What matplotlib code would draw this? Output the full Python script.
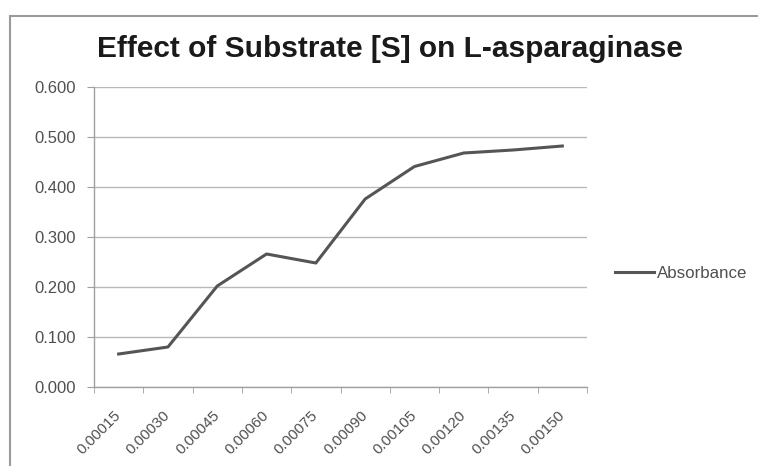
import matplotlib
matplotlib.use("Agg")
import matplotlib.pyplot as plt
from matplotlib.patches import Rectangle
from matplotlib.ticker import FixedLocator

# Substrate concentration [S] (M) and measured absorbance
substrate = ["0.00015", "0.00030", "0.00045", "0.00060", "0.00075",
             "0.00090", "0.00105", "0.00120", "0.00135", "0.00150"]
absorbance = [0.066, 0.080, 0.202, 0.266, 0.248, 0.376, 0.441, 0.468, 0.474, 0.482]
y_ticks = [0.0, 0.1, 0.2, 0.3, 0.4, 0.5, 0.6]

plt.rcParams['font.family'] = ['Liberation Sans', 'DejaVu Sans']

fig = plt.figure(figsize=(7.58, 4.66), dpi=100)
fig.patch.set_facecolor("white")

# outer chart frame
fig.patches.append(Rectangle((10 / 758, -0.05), 1.0, 1 - 16 / 466 + 0.05,
                             transform=fig.transFigure, fill=False,
                             edgecolor="#9a9a9a", linewidth=1.5))

ax = fig.add_axes([94 / 758, 1 - 387 / 466, 493 / 758, 300 / 466])
x = list(range(len(substrate)))
ax.plot(x, absorbance, color="#555555", linewidth=2.2, label="Absorbance",
        solid_joinstyle="round")

ax.set_xlim(-0.5, len(substrate) - 0.5)
ax.set_ylim(0, 0.6)
ax.set_yticks(y_ticks)
ax.set_yticklabels([f"{v:.3f}" for v in y_ticks])
ax.set_xticks(x)
ax.set_xticklabels(substrate, rotation=45, ha="right", va="center",
                   rotation_mode="anchor")
ax.xaxis.set_minor_locator(FixedLocator([i - 0.5 for i in range(len(substrate) + 1)]))
ax.tick_params(axis="x", which="major", length=0, pad=19, labelsize=11, colors="#505050")
ax.tick_params(axis="x", which="minor", length=4, color="#a0a0a0", direction="out")
ax.tick_params(axis="y", length=5, color="#a0a0a0", labelsize=12, colors="#505050", pad=8)

ax.grid(axis="y", color="#b8b8b8", linewidth=1.0)
ax.set_axisbelow(True)
for s in ["top", "right"]:
    ax.spines[s].set_visible(False)
for s in ["left", "bottom"]:
    ax.spines[s].set_color("#a0a0a0")
    ax.spines[s].set_linewidth(1.0)

fig.text(390 / 758, 1 - 49 / 466, "Effect of Substrate [S] on L-asparaginase",
         ha="center", va="center", fontsize=21.5, fontweight="bold", color="#1a1a1a")

ax.legend(loc="center left", bbox_to_anchor=(1.026, 0.38), frameon=False,
          fontsize=12.2, handlelength=2.3, handletextpad=0.2, labelcolor="#505050")

fig.savefig("out.png", dpi=100)
